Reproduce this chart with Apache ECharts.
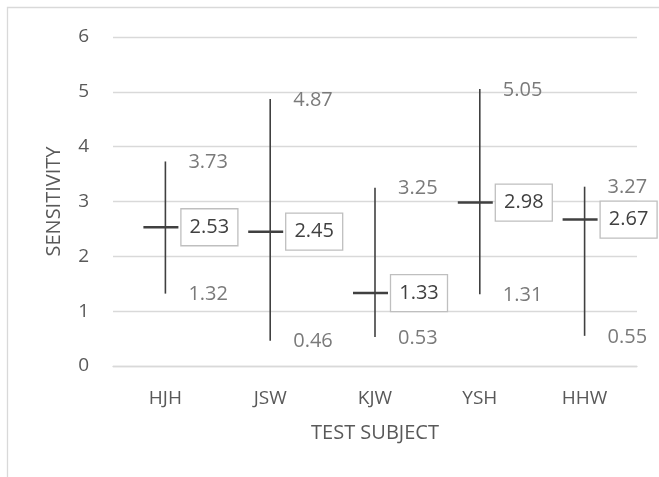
<!DOCTYPE html>
<html>
<head>
<meta charset="utf-8">
<script src="https://cdn.jsdelivr.net/npm/echarts@6/dist/echarts.min.js"></script>
<style>html,body{margin:0;padding:0;background:#fff;}#c{width:659px;height:477px;}</style>
</head>
<body>
<div id="c"></div>
<script>
const categories = ['HJH', 'JSW', 'KJW', 'YSH', 'HHW'];
const highValues = [3.73, 4.87, 3.25, 5.05, 3.27];
const lowValues = [1.32, 0.46, 0.53, 1.31, 0.55];
const meanValues = [2.53, 2.45, 1.33, 2.98, 2.67];
const yTicks = [0, 1, 2, 3, 4, 5, 6];

const FONT = '"Open Sans", sans-serif';
const chart = echarts.init(document.getElementById('c'), null, {renderer: 'canvas'});

const data = categories.map((c, i) => [i, lowValues[i], highValues[i], meanValues[i]]);

function renderItem(params, api) {
  const idx = api.value(0);
  const pLow = api.coord([idx, api.value(1)]);
  const pHigh = api.coord([idx, api.value(2)]);
  const pMean = api.coord([idx, api.value(3)]);
  const x = pLow[0];
  return {
    type: 'group',
    children: [
      {type: 'line', shape: {x1: x, y1: pLow[1], x2: x, y2: pHigh[1]},
       style: {stroke: '#404040', lineWidth: 1.6}},
      {type: 'line', shape: {x1: x - 22, y1: pMean[1], x2: x + 13, y2: pMean[1]},
       style: {stroke: '#404040', lineWidth: 2.5}},
      {type: 'rect', shape: {x: x + 15.5, y: pMean[1] - 18.5, width: 57, height: 37},
       style: {fill: '#fff', stroke: '#bfbfbf', lineWidth: 1.3}},
      {type: 'text', style: {text: api.value(3).toFixed(2), x: x + 44, y: pMean[1],
        align: 'center', verticalAlign: 'middle', fill: '#404040', font: '20px ' + FONT}},
      {type: 'text', style: {text: api.value(2).toFixed(2), x: x + 23, y: pHigh[1] + 1,
        align: 'left', verticalAlign: 'middle', fill: '#7a7a7a', font: '20px ' + FONT}},
      {type: 'text', style: {text: api.value(1).toFixed(2), x: x + 23, y: pLow[1] + 1,
        align: 'left', verticalAlign: 'middle', fill: '#7a7a7a', font: '20px ' + FONT}}
    ]
  };
}

chart.setOption({
  animation: false,
  backgroundColor: '#fff',
  graphic: [{type: 'rect', shape: {x: 7.5, y: 7.5, width: 700, height: 520},
    style: {fill: 'none', stroke: '#d9d9d9', lineWidth: 1.3}, z: -1, silent: true}],
  grid: {left: 113, right: 22, top: 37, bottom: 111},
  xAxis: {
    type: 'category', data: categories,
    name: 'TEST SUBJECT', nameLocation: 'middle', nameGap: 57, nameMoveOverlap: false,
    nameTextStyle: {color: '#595959', fontSize: 20, fontFamily: FONT},
    axisLine: {lineStyle: {color: '#d9d9d9', width: 1.3}},
    axisTick: {show: false},
    axisLabel: {color: '#595959', fontSize: 19, fontFamily: FONT, margin: 23},
    splitLine: {show: false}
  },
  yAxis: {
    type: 'value', min: 0, max: 6, interval: 1,
    name: 'SENSITIVITY', nameLocation: 'middle', nameGap: 49, nameRotate: 90,
    nameMoveOverlap: false,
    nameTextStyle: {color: '#595959', fontSize: 20, fontFamily: FONT},
    axisLine: {show: false}, axisTick: {show: false},
    axisLabel: {color: '#595959', fontSize: 19, fontFamily: FONT, margin: 24,
      formatter: v => yTicks.includes(v) ? String(v) : ''},
    splitLine: {lineStyle: {color: '#d9d9d9', width: 1.3}}
  },
  series: [{
    type: 'custom', renderItem: renderItem, data: data,
    encode: {x: 0, y: [1, 2, 3]}, clip: false
  }]
});
</script>
</body>
</html>
